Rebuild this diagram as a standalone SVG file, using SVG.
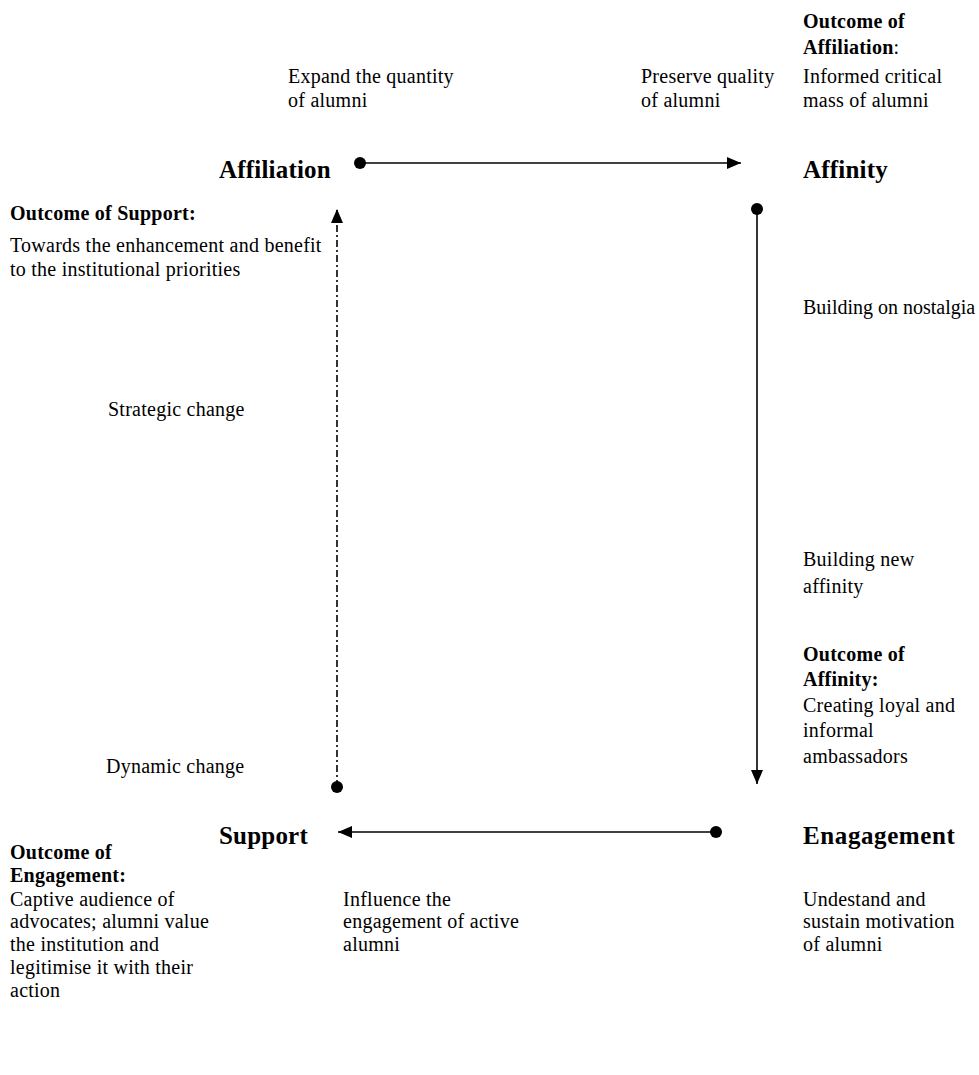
<svg xmlns="http://www.w3.org/2000/svg" width="979" height="1075" viewBox="0 0 979 1075">
<defs>
<style>
text{font-family:"Liberation Serif","Times New Roman",serif;fill:#000;font-size:20px;letter-spacing:0.25px}
.b{font-weight:bold}
.h{font-weight:bold;font-size:25px;letter-spacing:0.2px}
.ln{stroke:#000;stroke-width:1.6;fill:none}
.dd{stroke-dasharray:7 3 2 3}
</style>
<marker id="arr" markerUnits="userSpaceOnUse" markerWidth="15" markerHeight="13" refX="14" refY="6.5" orient="auto">
<path d="M0,0.5 L14,6.5 L0,12.5 z" fill="#000"/>
</marker>
<marker id="dot" markerUnits="userSpaceOnUse" markerWidth="14" markerHeight="14" refX="7" refY="7" orient="auto">
<circle cx="7" cy="7" r="6" fill="#000"/>
</marker>
</defs>
<rect width="979" height="1075" fill="#fff"/>
<g id="connectors">
<line class="ln" x1="360" y1="163" x2="741" y2="163" marker-start="url(#dot)" marker-end="url(#arr)"/>
<line class="ln" x1="757" y1="209" x2="757" y2="784" marker-start="url(#dot)" marker-end="url(#arr)"/>
<line class="ln" x1="716" y1="832" x2="338" y2="832" marker-start="url(#dot)" marker-end="url(#arr)"/>
<line class="ln dd" x1="337" y1="787" x2="337" y2="209" marker-start="url(#dot)" marker-end="url(#arr)"/>
</g>
<g id="node-affiliation"><text class="h" x="219" y="178">Affiliation</text></g>
<g id="node-affinity"><text class="h" x="803" y="178">Affinity</text></g>
<g id="node-support"><text class="h" x="219" y="844">Support</text></g>
<g id="node-engagement"><text class="h" x="803" y="844" style="letter-spacing:0.6px">Enagagement</text></g>
<g id="label-expand"><text x="288" y="83">Expand the quantity</text><text x="288" y="107">of alumni</text></g>
<g id="label-preserve"><text x="641" y="83">Preserve quality</text><text x="641" y="107">of alumni</text></g>
<g id="outcome-affiliation"><text class="b" x="803" y="28">Outcome of</text><text x="803" y="54"><tspan class="b">Affiliation</tspan>:</text><text x="803" y="83">Informed critical</text><text x="803" y="107">mass of alumni</text></g>
<g id="outcome-support"><text class="b" x="10" y="220">Outcome of Support:</text><text x="10" y="252">Towards the enhancement and benefit</text><text x="10" y="276">to the institutional priorities</text></g>
<g id="label-nostalgia"><text x="803" y="314" style="letter-spacing:0px">Building on nostalgia</text></g>
<g id="label-strategic"><text x="108" y="416">Strategic change</text></g>
<g id="label-newaffinity"><text x="803" y="566">Building new</text><text x="803" y="593">affinity</text></g>
<g id="outcome-affinity"><text class="b" x="803" y="661">Outcome of</text><text class="b" x="803" y="686">Affinity:</text><text x="803" y="712">Creating loyal and</text><text x="803" y="737">informal</text><text x="803" y="763">ambassadors</text></g>
<g id="label-dynamic"><text x="106" y="773">Dynamic change</text></g>
<g id="outcome-engagement"><text class="b" x="10" y="859">Outcome of</text><text class="b" x="10" y="882">Engagement:</text><text x="10" y="906">Captive audience of</text><text x="10" y="928">advocates; alumni value</text><text x="10" y="951">the institution and</text><text x="10" y="974">legitimise it with their</text><text x="10" y="997">action</text></g>
<g id="label-influence"><text x="343" y="906">Influence the</text><text x="343" y="928">engagement of active</text><text x="343" y="951">alumni</text></g>
<g id="label-understand"><text x="803" y="906">Undestand and</text><text x="803" y="928">sustain motivation</text><text x="803" y="951">of alumni</text></g>
</svg>
